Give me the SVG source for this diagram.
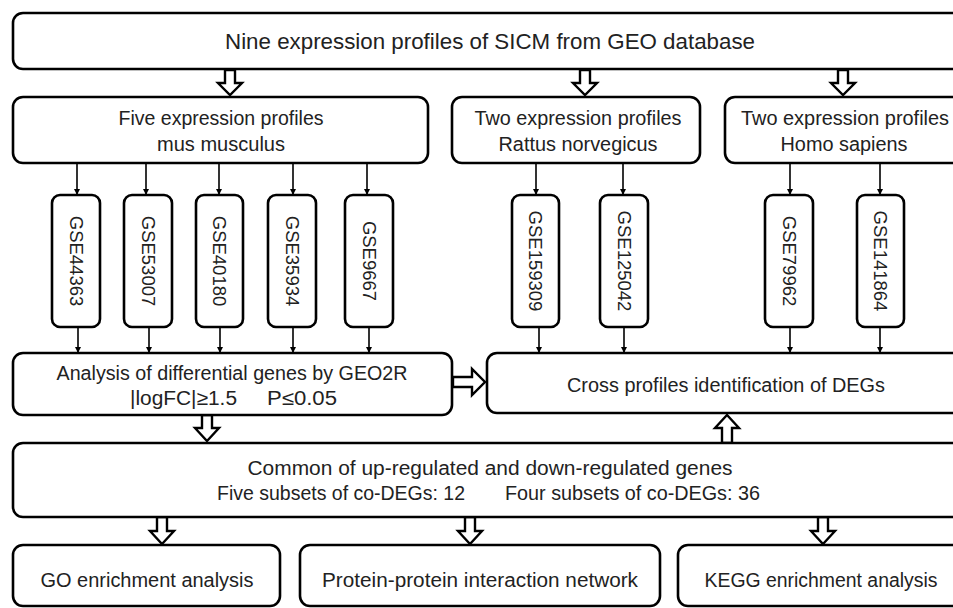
<svg xmlns="http://www.w3.org/2000/svg" width="953" height="608" viewBox="0 0 953 608">
<defs>
<style>
.box{fill:#fff;stroke:#000;stroke-width:2.6}
.t{font-family:"Liberation Sans","Noto Sans CJK SC",sans-serif;font-size:20px;fill:#222;text-anchor:middle}
.ts{font-family:"Liberation Sans","Noto Sans CJK SC",sans-serif;font-size:20px;fill:#222}
.v{font-family:"Liberation Sans",sans-serif;font-size:18.5px;fill:#222;text-anchor:middle;dominant-baseline:central}
.ln{stroke:#000;stroke-width:1.6;fill:none;marker-end:url(#ah)}
.ha{fill:#fff;stroke:#000;stroke-width:2.4;stroke-linejoin:miter}
</style>
<marker id="ah" viewBox="0 0 10 10" refX="10" refY="5" markerWidth="6" markerHeight="6" markerUnits="userSpaceOnUse" orient="auto">
<path d="M0,0 L10,5 L0,10 z" fill="#000"/>
</marker>
</defs>

<g id="connectors">
<path class="ha" d="M225,70 V83 H218 L230,95 L242,83 H235 V70 Z"/>
<path class="ha" d="M580,70 V83 H573 L585,95 L597,83 H590 V70 Z"/>
<path class="ha" d="M838,70 V83 H831 L843,95 L855,83 H848 V70 Z"/>
<line class="ln" x1="77" y1="163" x2="77" y2="195"/>
<line class="ln" x1="146" y1="163" x2="146" y2="195"/>
<line class="ln" x1="219" y1="163" x2="219" y2="195"/>
<line class="ln" x1="293" y1="163" x2="293" y2="195"/>
<line class="ln" x1="367" y1="163" x2="367" y2="195"/>
<line class="ln" x1="536" y1="163" x2="536" y2="195"/>
<line class="ln" x1="623" y1="163" x2="623" y2="195"/>
<line class="ln" x1="790" y1="163" x2="790" y2="195"/>
<line class="ln" x1="880" y1="163" x2="880" y2="195"/>
<line class="ln" x1="78" y1="327" x2="78" y2="353"/>
<line class="ln" x1="149" y1="327" x2="149" y2="353"/>
<line class="ln" x1="220" y1="327" x2="220" y2="353"/>
<line class="ln" x1="293" y1="327" x2="293" y2="353"/>
<line class="ln" x1="369" y1="327" x2="369" y2="353"/>
<line class="ln" x1="539" y1="327" x2="539" y2="353"/>
<line class="ln" x1="624" y1="327" x2="624" y2="353"/>
<line class="ln" x1="790" y1="327" x2="790" y2="353"/>
<line class="ln" x1="880" y1="327" x2="880" y2="353"/>
<path class="ha" d="M453,377 H472 V369 L485,382 L472,395 V387 H453 Z"/>
<path class="ha" d="M202,415 V428 H195 L207,441 L219,428 H212 V415 Z"/>
<path class="ha" d="M722,443 V428 H715 L727,415 L739,428 H732 V443 Z"/>
<path class="ha" d="M157,517 V531 H150 L162,544 L174,531 H167 V517 Z"/>
<path class="ha" d="M465,517 V531 H458 L470,544 L482,531 H475 V517 Z"/>
<path class="ha" d="M818,517 V531 H811 L823,544 L835,531 H828 V517 Z"/>
</g>

<g id="top">
<rect class="box" x="13" y="13" width="957" height="56" rx="10"/>
<text class="t" x="490" y="49" style="font-size:22.5px" textLength="530" lengthAdjust="spacingAndGlyphs">Nine expression profiles of SICM from GEO database</text>
</g>

<g id="mus">
<rect class="box" x="13" y="97" width="415" height="66" rx="10"/>
<text class="t" x="221" y="125" textLength="205" lengthAdjust="spacingAndGlyphs">Five expression profiles</text>
<text class="t" x="221" y="151" textLength="128" lengthAdjust="spacingAndGlyphs">mus musculus</text>
</g>
<g id="rattus">
<rect class="box" x="452" y="97" width="248" height="66" rx="10"/>
<text class="t" x="578" y="125" textLength="207" lengthAdjust="spacingAndGlyphs">Two expression profiles</text>
<text class="t" x="578" y="151" textLength="159" lengthAdjust="spacingAndGlyphs">Rattus norvegicus</text>
</g>
<g id="homo">
<rect class="box" x="725" y="97" width="245" height="66" rx="10"/>
<text class="t" x="845" y="125" textLength="208" lengthAdjust="spacingAndGlyphs">Two expression profiles</text>
<text class="t" x="844" y="151" textLength="127" lengthAdjust="spacingAndGlyphs">Homo sapiens</text>
</g>

<g id="gse44363"><rect class="box" x="52" y="195" width="48" height="132" rx="8"/><text class="v" transform="translate(76,261) rotate(90)">GSE44363</text></g>
<g id="gse53007"><rect class="box" x="124" y="195" width="48" height="132" rx="8"/><text class="v" transform="translate(148,261) rotate(90)">GSE53007</text></g>
<g id="gse40180"><rect class="box" x="196" y="195" width="47" height="132" rx="8"/><text class="v" transform="translate(219.5,261) rotate(90)">GSE40180</text></g>
<g id="gse35934"><rect class="box" x="268" y="195" width="48" height="132" rx="8"/><text class="v" transform="translate(292,261) rotate(90)">GSE35934</text></g>
<g id="gse9667"><rect class="box" x="345" y="195" width="48" height="132" rx="8"/><text class="v" transform="translate(369,261) rotate(90)">GSE9667</text></g>
<g id="gse159309"><rect class="box" x="512" y="195" width="47" height="132" rx="8"/><text class="v" transform="translate(535.5,261) rotate(90)">GSE159309</text></g>
<g id="gse125042"><rect class="box" x="600" y="195" width="48" height="132" rx="8"/><text class="v" transform="translate(624,261) rotate(90)">GSE125042</text></g>
<g id="gse79962"><rect class="box" x="765" y="195" width="48" height="132" rx="8"/><text class="v" transform="translate(789,261) rotate(90)">GSE79962</text></g>
<g id="gse141864"><rect class="box" x="857" y="195" width="47" height="132" rx="8"/><text class="v" transform="translate(880.5,261) rotate(90)">GSE141864</text></g>

<g id="analysis">
<rect class="box" x="13" y="353" width="439" height="62" rx="10"/>
<text class="t" x="232" y="380" textLength="351" lengthAdjust="spacingAndGlyphs">Analysis of differential genes by GEO2R</text>
<text class="ts" x="130" y="405" textLength="107" lengthAdjust="spacingAndGlyphs">|logFC|≥1.5</text>
<text class="ts" x="267" y="405" textLength="70" lengthAdjust="spacingAndGlyphs">P≤0.05</text>
</g>
<g id="cross">
<rect class="box" x="487" y="353" width="483" height="60" rx="10"/>
<text class="t" x="726" y="392" textLength="318" lengthAdjust="spacingAndGlyphs">Cross profiles identification of DEGs</text>
</g>

<g id="common">
<rect class="box" x="13" y="443" width="957" height="74" rx="10"/>
<text class="t" x="490" y="475" textLength="485" lengthAdjust="spacingAndGlyphs">Common of up-regulated and down-regulated genes</text>
<text class="ts" x="217" y="500" textLength="248" lengthAdjust="spacingAndGlyphs">Five subsets of co-DEGs: 12</text>
<text class="ts" x="505" y="500" textLength="255" lengthAdjust="spacingAndGlyphs">Four subsets of co-DEGs: 36</text>
</g>

<g id="go">
<rect class="box" x="13" y="545" width="267" height="61" rx="10"/>
<text class="t" x="147" y="587" textLength="213" lengthAdjust="spacingAndGlyphs">GO enrichment analysis</text>
</g>
<g id="ppi">
<rect class="box" x="300" y="545" width="360" height="61" rx="10"/>
<text class="t" x="480" y="587" textLength="316" lengthAdjust="spacingAndGlyphs">Protein-protein interaction network</text>
</g>
<g id="kegg">
<rect class="box" x="678" y="545" width="292" height="61" rx="10"/>
<text class="t" x="821" y="587" textLength="233" lengthAdjust="spacingAndGlyphs">KEGG enrichment analysis</text>
</g>
</svg>
